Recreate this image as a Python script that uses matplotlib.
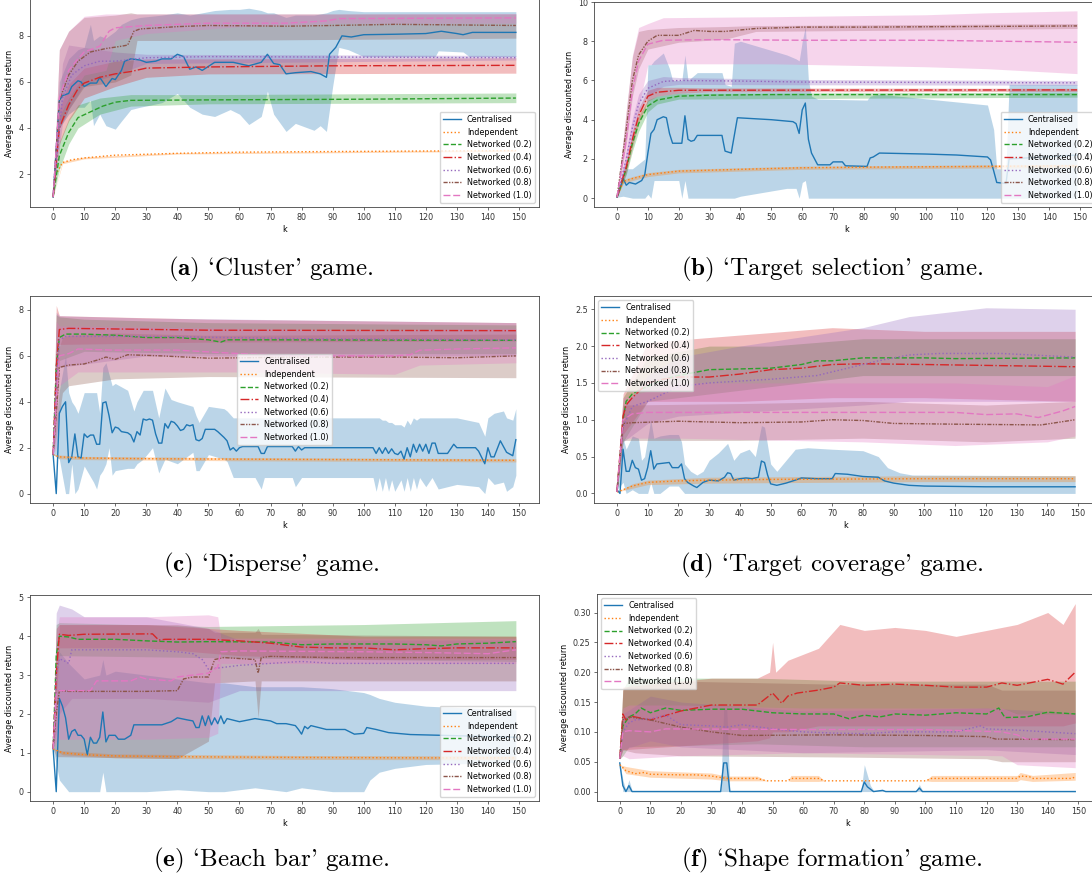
import numpy as np
import matplotlib.pyplot as plt
from matplotlib.ticker import FormatStrFormatter

plt.rcParams["mathtext.fontset"] = "cm"

LABELS = ["Centralised", "Independent", "Networked (0.2)", "Networked (0.4)",
          "Networked (0.6)", "Networked (0.8)", "Networked (1.0)"]
COLOURS = ["C0", "C1", "C2", "C3", "C4", "C5", "C6"]
STYLES = ["-", ":", "--", "-.", ":", (0, (3, 1, 1, 1, 1, 1)), (0, (5, 2))]

# ---- 'Cluster' game: (k, mean) and (k, low, high) per method
cluster_mean = [
    [(0, 1.0), (2, 5.2), (3, 5.4), (5, 5.5), (6, 5.8), (8, 6.05), (9, 6.0), (10, 5.8), (12, 5.95),
     (14, 5.95), (15, 6.2), (17, 5.8), (19, 6.15), (20, 6.1), (22, 6.5), (23, 6.9), (25, 7.0),
     (28, 6.95), (30, 6.85), (33, 6.9), (35, 7.0), (38, 7.0), (40, 7.2), (42, 7.1), (44, 6.55),
     (46, 6.65), (48, 6.5), (52, 6.85), (58, 6.85), (63, 6.7), (67, 6.85), (69, 7.2), (71, 6.8),
     (73, 6.75), (75, 6.35), (78, 6.4), (83, 6.45), (86, 6.35), (88, 6.2), (89, 7.2), (91, 7.5),
     (93, 8.0), (96, 7.95), (100, 8.05), (110, 8.07), (120, 8.1), (125, 8.2), (130, 8.1),
     (132, 8.05), (135, 8.15), (149, 8.15)],
    [(0, 1.0), (1, 2.0), (3, 2.5), (6, 2.62), (10, 2.7), (20, 2.82), (40, 2.9), (60, 2.95),
     (80, 2.97), (120, 3.0), (149, 3.02)],
    [(0, 1.0), (2, 2.8), (5, 3.8), (8, 4.45), (12, 4.7), (16, 4.95), (20, 5.12), (25, 5.2),
     (50, 5.22), (100, 5.25), (149, 5.3)],
    [(0, 1.0), (2, 4.0), (5, 5.0), (8, 5.7), (10, 5.95), (15, 6.2), (20, 6.35), (25, 6.45),
     (30, 6.6), (50, 6.65), (90, 6.7), (149, 6.72)],
    [(0, 1.0), (3, 5.3), (6, 6.3), (10, 6.7), (15, 6.9), (20, 6.9), (30, 7.05), (50, 7.1),
     (149, 7.05)],
    [(0, 1.0), (2, 5.2), (5, 6.3), (8, 6.9), (12, 7.3), (17, 7.45), (22, 7.55), (24, 7.6),
     (26, 8.2), (28, 8.3), (40, 8.4), (50, 8.45), (75, 8.42), (90, 8.45), (110, 8.5), (149, 8.45)],
    [(0, 1.0), (2, 5.3), (5, 6.5), (8, 7.0), (10, 7.3), (15, 7.55), (18, 8.2), (20, 8.35),
     (30, 8.45), (50, 8.55), (75, 8.55), (88, 8.65), (92, 8.75), (149, 8.78)],
]
cluster_band = [
    [(0, 1.0, 1.0), (2, 4.0, 6.0), (5, 4.6, 7.0), (8, 4.9, 7.4), (10, 4.9, 7.5), (12, 5.2, 8.5),
     (13, 4.1, 7.8), (15, 4.6, 8.0), (17, 4.1, 7.9), (20, 3.95, 8.2), (22, 4.3, 8.5),
     (25, 4.8, 8.7), (28, 4.9, 8.8), (35, 5.1, 8.9), (40, 5.5, 9.0), (44, 4.9, 8.9),
     (48, 4.6, 9.0), (52, 4.5, 9.1), (57, 4.8, 9.15), (60, 4.6, 9.15), (63, 4.15, 9.2),
     (67, 4.5, 9.1), (69, 5.6, 9.0), (71, 4.6, 9.0), (75, 3.85, 8.8), (78, 4.2, 8.9),
     (84, 3.9, 8.9), (86, 4.1, 8.95), (88, 3.85, 9.0), (90, 5.8, 9.1), (92, 7.5, 9.15),
     (95, 7.4, 9.1), (100, 7.1, 9.05), (123, 7.1, 9.05), (124, 7.35, 9.05), (132, 7.3, 9.05),
     (134, 7.1, 9.05), (149, 7.1, 9.05)],
    [(0, 1.0, 1.0), (3, 2.45, 2.55), (10, 2.66, 2.74), (40, 2.87, 2.93), (149, 2.99, 3.05)],
    [(0, 1.0, 1.0), (2, 2.2, 3.4), (5, 3.3, 4.4), (8, 4.0, 5.0), (15, 4.6, 5.3), (25, 4.95, 5.45),
     (50, 5.05, 5.45), (149, 5.1, 5.52)],
    [(0, 1.0, 1.0), (2, 3.3, 4.8), (5, 4.3, 5.9), (10, 5.3, 6.6), (20, 5.8, 6.9), (30, 6.2, 7.0),
     (50, 6.35, 7.0), (149, 6.38, 7.05)],
    [(0, 1.0, 1.0), (3, 4.2, 6.8), (5, 4.8, 7.6), (10, 5.9, 7.5), (20, 6.3, 7.3), (30, 6.8, 7.2),
     (149, 6.95, 7.15)],
    [(0, 1.0, 1.0), (2, 4.0, 7.4), (5, 4.8, 8.2), (10, 5.8, 8.8), (20, 6.0, 8.9), (25, 6.3, 9.0),
     (27, 7.8, 8.95), (45, 7.8, 8.95), (149, 7.9, 8.95)],
    [(0, 1.0, 1.0), (2, 4.5, 7.4), (5, 5.3, 8.2), (10, 6.3, 8.85), (17, 6.5, 8.95), (20, 7.8, 8.95),
     (30, 8.1, 8.95), (60, 8.4, 8.95), (92, 8.55, 8.95), (149, 8.55, 8.97)],
]

# ---- 'Target selection' game
selection_mean = [
    [(0, 0.05), (2, 1.0), (3, 0.66), (4, 0.8), (6, 0.72), (8, 0.9), (9, 1.2), (10, 2.3), (11, 3.3),
     (12, 3.5), (13, 4.0), (15, 4.15), (16, 4.1), (17, 3.3), (18, 2.8), (21, 2.8), (22, 4.2),
     (23, 3.0), (24, 2.9), (25, 2.95), (26, 3.2), (34, 3.2), (35, 2.4), (37, 2.3), (38, 3.2),
     (39, 4.1), (50, 4.0), (57, 3.9), (58, 3.8), (59, 3.3), (60, 4.5), (61, 4.85), (62, 3.0),
     (63, 2.3), (65, 1.7), (69, 1.7), (70, 1.85), (73, 1.85), (74, 1.65), (81, 1.62), (82, 2.05),
     (83, 2.1), (85, 2.3), (100, 2.25), (110, 2.2), (120, 2.1), (121, 1.95), (122, 1.4),
     (123, 0.8), (126, 0.75), (127, 2.0), (149, 2.2)],
    [(0, 0.05), (2, 0.85), (5, 1.0), (10, 1.2), (20, 1.38), (40, 1.47), (60, 1.55), (80, 1.58),
     (100, 1.6), (149, 1.65)],
    [(0, 0.05), (3, 1.5), (5, 2.8), (7, 3.8), (10, 4.7), (13, 5.0), (20, 5.2), (30, 5.25),
     (50, 5.28), (149, 5.28)],
    [(0, 0.05), (3, 1.6), (5, 3.0), (7, 4.2), (10, 5.2), (13, 5.4), (20, 5.5), (149, 5.52)],
    [(0, 0.05), (3, 2.0), (5, 3.6), (7, 4.8), (10, 5.6), (15, 5.95), (20, 6.0), (40, 5.97),
     (60, 5.92), (149, 5.88)],
    [(0, 0.05), (3, 3.5), (5, 6.0), (7, 7.3), (10, 8.0), (13, 8.3), (20, 8.3), (25, 8.55),
     (30, 8.5), (35, 8.5), (45, 8.65), (60, 8.72), (80, 8.72), (149, 8.78)],
    [(0, 0.05), (3, 3.0), (5, 5.5), (7, 7.0), (10, 7.85), (15, 8.05), (30, 8.08), (60, 8.05),
     (100, 8.05), (149, 7.95)],
]
selection_band = [
    [(0, 0.05, 0.05), (2, 0.1, 1.5), (5, 0.0, 1.5), (9, 0.0, 2.0), (10, 0.2, 6.8), (11, 0.0, 6.8),
     (12, 0.9, 7.0), (15, 0.9, 7.4), (17, 0.9, 6.6), (18, 0.9, 6.0), (20, 0.9, 6.0),
     (21, 0.0, 6.0), (22, 0.9, 7.3), (23, 0.0, 6.0), (26, 0.0, 6.4), (34, 0.0, 6.4),
     (35, 0.0, 5.8), (37, 0.0, 5.7), (38, 0.0, 7.9), (40, 0.1, 8.0), (55, 0.5, 7.3),
     (58, 0.5, 7.1), (59, 0.0, 7.0), (60, 0.8, 8.0), (61, 0.9, 8.75), (62, 0.0, 6.0),
     (63, 0.0, 5.2), (65, 0.0, 5.05), (81, 0.0, 5.0), (82, 0.0, 5.2), (85, 0.0, 5.3),
     (120, 0.0, 4.75), (122, 0.0, 3.5), (123, 0.0, 1.5), (126, 0.0, 1.5), (127, 0.0, 5.8),
     (149, 0.0, 5.8)],
    [(0, 0.05, 0.05), (2, 0.75, 0.95), (5, 0.9, 1.1), (10, 1.1, 1.3), (20, 1.29, 1.47),
     (60, 1.47, 1.63), (149, 1.57, 1.73)],
    [(0, 0.05, 0.05), (3, 1.2, 1.8), (5, 2.4, 3.2), (7, 3.4, 4.2), (10, 4.4, 5.0), (13, 4.8, 5.2),
     (20, 5.05, 5.35), (149, 5.15, 5.4)],
    [(0, 0.05, 0.05), (3, 1.3, 1.9), (5, 2.6, 3.4), (7, 3.8, 4.6), (10, 4.95, 5.5),
     (13, 5.2, 5.65), (20, 5.35, 5.65), (30, 5.42, 5.62), (149, 5.44, 5.6)],
    [(0, 0.05, 0.05), (3, 1.6, 2.4), (5, 3.1, 4.1), (7, 4.3, 5.3), (10, 5.2, 6.0), (15, 5.7, 6.2),
     (20, 5.8, 6.15), (60, 5.78, 6.05), (149, 5.76, 6.0)],
    [(0, 0.05, 0.05), (3, 2.8, 4.4), (5, 5.2, 7.2), (7, 6.6, 8.5), (10, 7.6, 8.6),
     (20, 7.95, 8.7), (35, 8.1, 8.75), (45, 8.5, 8.8), (149, 8.65, 8.9)],
    [(0, 0.05, 0.05), (3, 1.5, 4.5), (5, 3.2, 7.3), (7, 4.6, 8.7), (10, 6.8, 8.9),
     (15, 6.85, 9.2), (50, 6.85, 9.25), (100, 6.7, 9.35), (120, 6.6, 9.45), (149, 6.35, 9.55)],
]

# ---- 'Disperse' game
disperse_mean = [
    [(0, 1.7), (1, 0.0), (2, 3.5), (3, 3.8), (4, 4.0), (5, 1.35), (6, 1.6), (7, 2.6), (8, 1.6),
     (9, 1.55), (10, 2.6), (11, 2.45), (12, 2.55), (13, 2.55), (14, 2.15), (15, 2.15), (16, 3.95),
     (17, 4.0), (18, 3.4), (19, 2.65), (20, 2.9), (21, 2.85), (22, 2.7), (24, 2.65), (25, 2.55),
     (26, 2.25), (27, 2.7), (28, 2.55), (29, 3.25), (30, 3.2), (31, 3.25), (32, 3.2), (33, 2.6),
     (34, 2.2), (35, 2.2), (36, 3.05), (37, 2.85), (38, 3.15), (39, 3.1), (40, 2.95), (41, 2.75),
     (42, 2.8), (43, 3.0), (44, 2.95), (45, 3.0), (46, 2.35), (47, 2.3), (48, 2.4), (49, 2.8),
     (52, 2.8), (53, 2.7), (55, 2.45), (56, 2.3), (57, 1.9), (58, 2.0), (59, 1.85), (60, 2.0),
     (61, 2.05), (66, 2.05), (67, 1.75), (68, 1.75), (69, 2.05), (77, 2.05), (78, 1.85),
     (79, 2.05), (80, 1.9), (81, 2.0), (103, 2.0), (104, 1.75), (105, 2.0), (106, 1.75),
     (107, 2.0), (108, 1.75), (109, 1.95), (110, 1.75), (111, 1.7), (112, 1.85), (113, 1.5),
     (114, 2.0), (115, 1.6), (116, 2.15), (117, 1.8), (118, 2.15), (119, 1.85), (120, 2.15),
     (121, 1.75), (122, 2.2), (123, 2.2), (124, 1.75), (127, 1.75), (129, 2.15), (130, 2.0),
     (136, 2.0), (137, 1.85), (139, 1.3), (140, 2.0), (141, 1.6), (142, 1.6), (144, 2.3),
     (145, 2.05), (146, 1.8), (148, 1.65), (149, 2.35)],
    [(0, 1.7), (2, 1.6), (10, 1.55), (30, 1.52), (60, 1.5), (100, 1.48), (149, 1.45)],
    [(0, 1.7), (1, 5.5), (2, 6.8), (4, 6.95), (10, 6.95), (20, 6.9), (30, 6.8), (40, 6.8),
     (50, 6.7), (54, 6.6), (56, 6.7), (70, 6.7), (149, 6.68)],
    [(0, 1.7), (1, 5.5), (2, 7.15), (5, 7.2), (50, 7.12), (149, 7.1)],
    [(0, 1.7), (1, 5.0), (2, 6.7), (4, 6.85), (30, 6.85), (80, 6.75), (149, 6.7)],
    [(0, 1.7), (1, 3.5), (2, 5.5), (5, 5.6), (10, 5.65), (15, 5.85), (17, 5.95), (20, 5.85),
     (24, 6.05), (35, 6.0), (50, 5.9), (80, 5.95), (110, 5.95), (130, 5.92), (149, 6.0)],
    [(0, 1.7), (1, 4.0), (2, 6.0), (5, 6.1), (8, 6.3), (20, 6.25), (40, 6.25), (60, 6.1),
     (80, 6.0), (110, 6.0), (115, 6.05), (118, 6.25), (130, 6.3), (149, 6.35)],
]
disperse_band = [
    [(0, 1.7, 1.7), (2, 1.5, 4.5), (4, 0.0, 6.0), (5, 0.0, 4.4), (6, 1.3, 4.0), (7, 0.0, 3.8),
     (8, 0.2, 3.5), (10, 1.2, 4.4), (13, 0.5, 4.4), (14, 0.2, 4.4), (15, 0.8, 3.5),
     (16, 1.0, 5.5), (17, 1.3, 5.7), (18, 2.0, 5.2), (19, 0.8, 4.7), (20, 1.0, 4.8),
     (24, 1.1, 4.5), (26, 1.1, 3.6), (27, 1.3, 4.0), (29, 1.5, 4.5), (32, 2.0, 4.5),
     (34, 0.9, 3.3), (36, 1.5, 4.6), (38, 1.4, 4.1), (40, 1.3, 4.0), (45, 1.8, 3.8),
     (46, 1.0, 3.4), (47, 1.0, 3.1), (50, 1.7, 3.8), (55, 1.5, 3.7), (56, 1.4, 3.6),
     (58, 0.7, 3.3), (65, 0.7, 3.3), (67, 0.2, 3.3), (68, 0.7, 3.3), (77, 0.7, 3.3),
     (78, 0.3, 3.3), (80, 0.7, 3.3), (103, 0.7, 3.3), (104, 0.1, 3.3), (105, 0.7, 3.3),
     (106, 0.1, 3.2), (107, 0.7, 3.2), (108, 0.1, 3.1), (109, 0.6, 3.1), (110, 0.1, 3.0),
     (112, 0.6, 3.0), (113, 0.1, 2.9), (114, 0.7, 3.2), (115, 0.1, 3.0), (116, 0.7, 3.3),
     (117, 0.2, 3.2), (118, 0.7, 3.3), (120, 0.3, 3.3), (122, 0.7, 3.3), (124, 0.2, 3.3),
     (130, 0.4, 3.3), (137, 0.3, 3.1), (139, 0.0, 2.5), (140, 0.7, 3.3), (142, 0.4, 3.5),
     (145, 0.5, 3.6), (146, 0.1, 3.3), (148, 0.3, 3.2), (149, 0.8, 3.7)],
    [(0, 1.7, 1.7), (2, 1.52, 1.68), (10, 1.48, 1.62), (60, 1.43, 1.57), (149, 1.38, 1.52)],
    [(0, 1.7, 1.7), (1, 3.5, 7.8), (2, 5.8, 7.7), (10, 6.2, 7.6), (50, 6.1, 7.45),
     (149, 6.1, 7.35)],
    [(0, 1.7, 1.7), (1, 3.5, 8.2), (2, 6.5, 7.75), (50, 6.6, 7.6), (149, 6.65, 7.45)],
    [(0, 1.7, 1.7), (1, 3.0, 7.9), (2, 5.5, 7.75), (30, 6.0, 7.65), (149, 6.0, 7.45)],
    [(0, 1.7, 1.7), (1, 2.5, 6.0), (3, 4.4, 6.8), (5, 4.7, 6.9), (20, 5.0, 7.0), (50, 5.1, 6.9),
     (149, 5.05, 6.95)],
    [(0, 1.7, 1.7), (1, 2.0, 7.5), (2, 4.7, 7.3), (8, 5.3, 7.3), (60, 5.3, 7.2),
     (110, 5.2, 7.1), (118, 5.6, 7.15), (149, 5.7, 7.2)],
]

# ---- 'Target coverage' game
coverage_mean = [
    [(0, 0.05), (1, 0.0), (2, 0.6), (3, 0.3), (4, 0.3), (5, 0.45), (6, 0.35), (7, 0.33),
     (8, 0.18), (9, 0.2), (10, 0.35), (11, 0.58), (12, 0.33), (13, 0.4), (17, 0.42), (18, 0.35),
     (20, 0.35), (21, 0.4), (22, 0.2), (23, 0.15), (25, 0.1), (26, 0.08), (28, 0.15), (30, 0.18),
     (33, 0.17), (35, 0.22), (36, 0.28), (37, 0.27), (38, 0.18), (40, 0.2), (42, 0.21),
     (44, 0.2), (46, 0.22), (47, 0.44), (48, 0.42), (49, 0.25), (50, 0.13), (52, 0.11),
     (55, 0.14), (58, 0.18), (60, 0.21), (65, 0.2), (70, 0.2), (71, 0.27), (75, 0.26),
     (80, 0.23), (85, 0.22), (87, 0.17), (90, 0.14), (95, 0.11), (100, 0.1), (120, 0.09),
     (149, 0.09)],
    [(0, 0.02), (2, 0.05), (5, 0.1), (10, 0.15), (20, 0.17), (30, 0.18), (50, 0.19),
     (100, 0.2), (149, 0.2)],
    [(0, 0.02), (1, 0.5), (2, 1.0), (3, 1.25), (5, 1.35), (8, 1.42), (10, 1.45), (15, 1.55),
     (20, 1.6), (30, 1.68), (50, 1.7), (60, 1.75), (65, 1.8), (70, 1.8), (80, 1.84), (100, 1.84),
     (110, 1.83), (149, 1.84)],
    [(0, 0.02), (2, 1.05), (3, 1.2), (5, 1.3), (10, 1.5), (15, 1.55), (20, 1.58), (30, 1.58),
     (40, 1.62), (50, 1.68), (60, 1.7), (70, 1.75), (80, 1.76), (100, 1.75), (149, 1.72)],
    [(0, 0.02), (2, 0.9), (5, 1.18), (10, 1.25), (20, 1.45), (30, 1.5), (50, 1.55), (65, 1.6),
     (75, 1.7), (85, 1.8), (95, 1.88), (105, 1.9), (125, 1.9), (149, 1.85)],
    [(0, 0.02), (2, 0.95), (5, 0.96), (20, 0.98), (40, 0.96), (60, 0.97), (70, 1.0), (80, 0.99),
     (90, 0.95), (110, 0.94), (138, 0.93), (149, 1.0)],
    [(0, 0.02), (2, 1.0), (5, 1.08), (10, 1.1), (60, 1.1), (110, 1.1), (120, 1.07), (130, 1.08),
     (137, 1.03), (145, 1.12), (149, 1.18)],
]
coverage_band = [
    [(0, 0.05, 0.05), (2, 0.15, 0.75), (3, 0.0, 0.6), (5, 0.05, 0.78), (7, 0.0, 0.75),
     (8, 0.0, 0.45), (9, 0.0, 0.5), (10, 0.0, 0.75), (11, 0.15, 1.0), (12, 0.0, 0.75),
     (14, 0.0, 0.78), (17, 0.1, 0.8), (20, 0.1, 0.8), (21, 0.05, 0.7), (22, 0.0, 0.4),
     (24, 0.0, 0.3), (26, 0.0, 0.25), (28, 0.0, 0.3), (30, 0.0, 0.45), (33, 0.0, 0.55),
     (36, 0.0, 0.68), (38, 0.0, 0.45), (40, 0.0, 0.55), (43, 0.0, 0.6), (45, 0.0, 0.5),
     (47, 0.0, 0.92), (48, 0.0, 0.9), (50, 0.0, 0.4), (52, 0.0, 0.3), (55, 0.0, 0.45),
     (58, 0.0, 0.6), (62, 0.0, 0.62), (70, 0.0, 0.6), (80, 0.0, 0.58), (85, 0.0, 0.5),
     (88, 0.0, 0.35), (92, 0.0, 0.28), (96, 0.0, 0.25), (149, 0.0, 0.24)],
    [(0, 0.02, 0.02), (5, 0.07, 0.13), (10, 0.12, 0.18), (30, 0.14, 0.22), (100, 0.16, 0.24),
     (149, 0.16, 0.24)],
    [(0, 0.02, 0.02), (2, 0.7, 1.3), (10, 1.25, 1.85), (30, 1.35, 2.0), (50, 1.45, 2.0),
     (80, 1.6, 2.1), (149, 1.6, 2.1)],
    [(0, 0.02, 0.02), (2, 0.8, 1.35), (10, 1.25, 2.05), (40, 1.25, 2.15), (70, 1.3, 2.25),
     (100, 1.3, 2.2), (149, 1.25, 2.2)],
    [(0, 0.02, 0.02), (2, 0.7, 1.15), (10, 0.95, 1.6), (20, 1.05, 1.85), (40, 1.1, 2.0),
     (80, 1.2, 2.25), (95, 1.25, 2.4), (120, 1.25, 2.52), (149, 1.25, 2.5)],
    [(0, 0.02, 0.02), (2, 0.72, 1.2), (40, 0.72, 1.22), (80, 0.75, 1.25), (120, 0.7, 1.2),
     (149, 0.75, 1.25)],
    [(0, 0.02, 0.02), (2, 0.75, 1.3), (20, 0.75, 1.5), (80, 0.7, 1.5), (110, 0.65, 1.5),
     (140, 0.7, 1.45), (149, 0.78, 1.6)],
]

# ---- 'Beach bar' game
beach_mean = [
    [(0, 1.1), (1, 0.0), (2, 2.4), (3, 2.2), (4, 1.9), (5, 1.35), (6, 1.55), (7, 1.6), (8, 1.45),
     (9, 1.45), (10, 1.35), (11, 0.95), (12, 1.4), (13, 1.25), (14, 1.25), (15, 1.4), (16, 2.05),
     (17, 1.28), (18, 1.45), (20, 1.45), (21, 1.35), (23, 1.35), (25, 1.45), (26, 1.72),
     (35, 1.72), (38, 1.8), (40, 1.9), (43, 1.85), (45, 1.82), (46, 1.65), (47, 1.65),
     (48, 1.95), (49, 1.7), (50, 1.95), (51, 1.72), (52, 1.9), (53, 1.75), (54, 1.95),
     (55, 1.75), (56, 1.88), (60, 1.8), (65, 1.88), (70, 1.82), (72, 1.75), (75, 1.75),
     (78, 1.7), (79, 1.6), (80, 1.48), (81, 1.68), (82, 1.62), (83, 1.7), (88, 1.6), (94, 1.6),
     (97, 1.48), (100, 1.5), (101, 1.65), (104, 1.6), (108, 1.52), (115, 1.47), (125, 1.45),
     (149, 1.4)],
    [(0, 1.1), (3, 1.0), (10, 0.95), (20, 0.92), (40, 0.9), (80, 0.88), (120, 0.87), (149, 0.87)],
    [(0, 1.1), (1, 3.5), (2, 4.0), (5, 3.98), (8, 3.92), (20, 3.92), (30, 3.88), (40, 3.85),
     (50, 3.86), (70, 3.85), (80, 3.78), (90, 3.8), (110, 3.8), (120, 3.78), (125, 3.75),
     (130, 3.8), (140, 3.82), (149, 3.86)],
    [(0, 1.1), (1, 3.0), (2, 4.05), (5, 4.02), (10, 4.05), (32, 4.06), (34, 3.9), (36, 3.92),
     (50, 3.92), (60, 3.88), (70, 3.82), (80, 3.72), (90, 3.7), (100, 3.7), (110, 3.65),
     (120, 3.68), (130, 3.7), (149, 3.7)],
    [(0, 1.1), (1, 3.0), (2, 3.42), (4, 3.35), (5, 3.3), (6, 3.65), (30, 3.65), (40, 3.6),
     (45, 3.55), (48, 3.4), (50, 3.15), (55, 3.2), (60, 3.25), (70, 3.3), (80, 3.35), (90, 3.3),
     (149, 3.3)],
    [(0, 1.1), (1, 2.0), (2, 2.6), (5, 2.58), (30, 2.58), (40, 2.6), (42, 2.9), (45, 2.95),
     (50, 2.95), (52, 3.4), (55, 3.45), (65, 3.4), (66, 3.05), (67, 3.45), (70, 3.48),
     (90, 3.45), (149, 3.45)],
    [(0, 1.1), (1, 2.5), (2, 2.6), (12, 2.6), (14, 2.85), (25, 2.85), (28, 2.95), (30, 2.9),
     (38, 2.85), (40, 2.95), (45, 3.0), (50, 3.05), (53, 3.2), (54, 3.6), (60, 3.62), (100, 3.6),
     (120, 3.58), (140, 3.55), (149, 3.65)],
]
beach_band = [
    [(0, 1.1, 1.1), (2, 0.3, 3.6), (5, 0.0, 3.3), (10, 0.0, 2.9), (15, 0.0, 3.0), (16, 0.5, 3.4),
     (17, 0.0, 3.0), (20, 0.0, 3.1), (30, 0.0, 3.0), (40, 0.05, 2.9), (50, 0.0, 2.8),
     (55, 0.0, 2.8), (65, 0.1, 2.7), (75, 0.0, 2.7), (80, 0.1, 2.7), (90, 0.0, 2.65),
     (100, 0.0, 2.55), (102, 0.3, 2.5), (105, 0.5, 2.4), (110, 0.6, 2.3), (120, 0.7, 2.2),
     (149, 0.75, 2.1)],
    [(0, 1.1, 1.1), (3, 0.95, 1.05), (20, 0.87, 0.97), (80, 0.83, 0.93), (149, 0.82, 0.92)],
    [(0, 1.1, 1.1), (1, 2.5, 4.3), (2, 3.5, 4.35), (50, 3.45, 4.25), (100, 3.4, 4.3),
     (149, 3.35, 4.4)],
    [(0, 1.1, 1.1), (1, 2.2, 4.2), (2, 3.7, 4.3), (30, 3.7, 4.3), (60, 3.5, 4.15),
     (100, 3.4, 4.0), (149, 3.4, 4.0)],
    [(0, 1.1, 1.1), (1, 1.5, 4.6), (2, 2.0, 4.8), (6, 2.4, 4.7), (10, 2.4, 4.5), (30, 2.4, 4.5),
     (50, 2.3, 4.2), (60, 2.6, 3.9), (149, 2.6, 3.9)],
    [(0, 1.1, 1.1), (1, 0.9, 3.0), (2, 0.9, 4.3), (40, 0.85, 4.3), (50, 1.3, 4.2),
     (52, 2.8, 4.1), (65, 2.85, 4.1), (66, 1.9, 4.2), (67, 2.85, 4.05), (149, 2.85, 4.0)],
    [(0, 1.1, 1.1), (1, 1.3, 4.0), (2, 1.35, 4.5), (30, 1.35, 4.5), (50, 1.4, 4.55),
     (53, 1.5, 4.5), (54, 3.3, 3.95), (149, 3.3, 3.95)],
]

# ---- 'Shape formation' game
shape_mean = [
    [(0, 0.048), (1, 0.01), (2, 0.0), (3, 0.01), (4, 0.0), (33, 0.0), (34, 0.048), (35, 0.048),
     (36, 0.0), (79, 0.0), (80, 0.016), (81, 0.008), (82, 0.004), (83, 0.0), (86, 0.002),
     (87, 0.0), (97, 0.0), (98, 0.006), (99, 0.0), (149, 0.0)],
    [(0, 0.045), (2, 0.035), (5, 0.03), (8, 0.032), (10, 0.029), (20, 0.028), (25, 0.028),
     (30, 0.026), (35, 0.022), (45, 0.022), (48, 0.018), (55, 0.018), (56, 0.022), (65, 0.022),
     (67, 0.018), (100, 0.018), (102, 0.022), (130, 0.022), (131, 0.026), (134, 0.025),
     (135, 0.022), (148, 0.022), (149, 0.025)],
    [(0, 0.055), (1, 0.11), (3, 0.125), (5, 0.13), (7, 0.14), (10, 0.132), (15, 0.14),
     (20, 0.136), (30, 0.138), (40, 0.138), (45, 0.135), (50, 0.132), (60, 0.13), (70, 0.13),
     (75, 0.122), (80, 0.128), (85, 0.125), (90, 0.13), (100, 0.128), (110, 0.132), (120, 0.13),
     (124, 0.14), (126, 0.124), (133, 0.125), (140, 0.133), (149, 0.13)],
    [(0, 0.055), (1, 0.13), (2, 0.12), (4, 0.126), (10, 0.12), (20, 0.135), (30, 0.145),
     (45, 0.145), (50, 0.165), (53, 0.148), (55, 0.16), (58, 0.165), (65, 0.17), (70, 0.175),
     (72, 0.182), (80, 0.178), (90, 0.18), (100, 0.178), (110, 0.175), (120, 0.175),
     (125, 0.182), (130, 0.178), (140, 0.188), (145, 0.18), (149, 0.2)],
    [(0, 0.055), (1, 0.1), (3, 0.115), (5, 0.12), (10, 0.122), (15, 0.128), (20, 0.112),
     (30, 0.11), (35, 0.108), (40, 0.112), (50, 0.105), (60, 0.1), (70, 0.098), (80, 0.097),
     (90, 0.1), (110, 0.1), (118, 0.11), (120, 0.105), (130, 0.103), (149, 0.097)],
    [(0, 0.055), (1, 0.12), (3, 0.125), (10, 0.12), (20, 0.108), (30, 0.1), (40, 0.094),
     (70, 0.095), (100, 0.094), (120, 0.092), (123, 0.088), (149, 0.087)],
    [(0, 0.055), (1, 0.1), (3, 0.102), (10, 0.1), (15, 0.105), (60, 0.104), (100, 0.104),
     (125, 0.1), (130, 0.095), (133, 0.088), (149, 0.088)],
]
shape_band = [
    [(0, 0.048, 0.048), (1, 0.0, 0.02), (2, 0.0, 0.002), (3, 0.0, 0.02), (4, 0.0, 0.002),
     (33, 0.0, 0.002), (34, 0.0, 0.14), (35, 0.0, 0.14), (36, 0.0, 0.002), (79, 0.0, 0.002),
     (80, 0.0, 0.045), (82, 0.0, 0.01), (83, 0.0, 0.002), (97, 0.0, 0.002), (98, 0.0, 0.012),
     (99, 0.0, 0.002), (149, 0.0, 0.002)],
    [(0, 0.045, 0.045), (2, 0.03, 0.042), (10, 0.024, 0.035), (30, 0.021, 0.031),
     (35, 0.018, 0.026), (45, 0.018, 0.026), (48, 0.018, 0.018), (55, 0.018, 0.018),
     (56, 0.017, 0.027), (65, 0.017, 0.027), (67, 0.018, 0.018), (100, 0.018, 0.018),
     (102, 0.017, 0.027), (130, 0.017, 0.027), (131, 0.02, 0.032), (135, 0.017, 0.027),
     (149, 0.019, 0.032)],
    [(0, 0.055, 0.055), (1, 0.06, 0.17), (3, 0.075, 0.19), (45, 0.08, 0.19), (80, 0.075, 0.185),
     (149, 0.075, 0.185)],
    [(0, 0.055, 0.055), (1, 0.07, 0.175), (30, 0.08, 0.19), (45, 0.085, 0.19), (49, 0.09, 0.2),
     (50, 0.1, 0.25), (51, 0.1, 0.2), (55, 0.1, 0.22), (65, 0.11, 0.24), (72, 0.11, 0.28),
     (80, 0.11, 0.27), (90, 0.11, 0.275), (100, 0.11, 0.27), (110, 0.11, 0.26), (120, 0.11, 0.27),
     (130, 0.11, 0.28), (135, 0.11, 0.29), (140, 0.11, 0.3), (145, 0.11, 0.28), (149, 0.115, 0.315)],
    [(0, 0.055, 0.055), (1, 0.07, 0.13), (10, 0.085, 0.16), (20, 0.075, 0.15), (60, 0.065, 0.135),
     (120, 0.07, 0.14), (149, 0.062, 0.132)],
    [(0, 0.055, 0.055), (1, 0.07, 0.17), (5, 0.065, 0.185), (20, 0.06, 0.185), (70, 0.058, 0.18),
     (120, 0.055, 0.18), (125, 0.05, 0.17), (149, 0.05, 0.17)],
    [(0, 0.055, 0.055), (1, 0.06, 0.14), (3, 0.055, 0.145), (20, 0.06, 0.145), (60, 0.065, 0.14),
     (125, 0.06, 0.14), (130, 0.045, 0.13), (149, 0.04, 0.13)],
]

W, H = 1092, 883
fig = plt.figure(figsize=(W / 100, H / 100), dpi=100)
FS = 5.8


def add_panel(left, top, right, bottom):
    return fig.add_axes([left / W, 1 - bottom / H, (right - left) / W, (bottom - top) / H])


def draw_game(ax, means, bands, ylim, yticks, legend_loc, yfmt=None):
    for mean, band, colour, style, label in zip(means, bands, COLOURS, STYLES, LABELS):
        k, y = np.array(mean).T
        ax.plot(k, y, color=colour, ls=style, lw=1.0, label=label)
        k, lo, hi = np.array(band).T
        ax.fill_between(k, lo, hi, color=colour, alpha=0.3, lw=0)
    ax.set_xlim(-7.45, 156.45)
    ax.set_ylim(*ylim)
    ax.set_xticks(np.arange(0, 151, 10))
    ax.set_yticks(yticks)
    if yfmt:
        ax.yaxis.set_major_formatter(FormatStrFormatter(yfmt))
    ax.tick_params(labelsize=FS, length=2.5, width=0.5, pad=2, colors="#333333")
    for s in ax.spines.values():
        s.set_linewidth(0.6)
        s.set_color("#444444")
    ax.set_xlabel("k", fontsize=FS, labelpad=2)
    ax.set_ylabel("Average discounted return", fontsize=FS, labelpad=3)
    ax.legend(loc=legend_loc, fontsize=FS, handlelength=2.2, borderpad=0.4, labelspacing=0.45)


ax_a = add_panel(30, -1, 539, 207)
draw_game(ax_a, cluster_mean, cluster_band, (0.57, 9.6), [2, 4, 6, 8], "lower right")
ax_b = add_panel(594, 2, 1100, 207)
draw_game(ax_b, selection_mean, selection_band, (-0.45, 10.0), [0, 2, 4, 6, 8, 10], "lower right")
ax_c = add_panel(30, 296, 539, 503)
draw_game(ax_c, disperse_mean, disperse_band, (-0.41, 8.61), [0, 2, 4, 6, 8], "center")
ax_d = add_panel(594, 296, 1098, 503)
draw_game(ax_d, coverage_mean, coverage_band, (-0.13, 2.68), [0.0, 0.5, 1.0, 1.5, 2.0, 2.5],
          "upper left", "%.1f")
ax_e = add_panel(30, 595, 539, 801)
draw_game(ax_e, beach_mean, beach_band, (-0.24, 5.06), [0, 1, 2, 3, 4, 5], "lower right")
ax_f = add_panel(597, 594, 1098, 801)
draw_game(ax_f, shape_mean, shape_band, (-0.0158, 0.331),
          [0.0, 0.05, 0.10, 0.15, 0.20, 0.25, 0.30], "upper left", "%.2f")

captions = [
    (271, 269, r"$\mathbf{(a)}$ `Cluster' game."),
    (832, 269, r"$\mathbf{(b)}$ `Target selection' game."),
    (271, 565, r"$\mathbf{(c)}$ `Disperse' game."),
    (832, 565, r"$\mathbf{(d)}$ `Target coverage' game."),
    (271, 860, r"$\mathbf{(e)}$ `Beach bar' game."),
    (832, 860, r"$\mathbf{(f)}$ `Shape formation' game."),
]
for x, y, text in captions:
    fig.text(x / W, 1 - y / H, text, family="cmr10", fontsize=18, ha="center", va="center")

fig.savefig("out.png", dpi=100)
